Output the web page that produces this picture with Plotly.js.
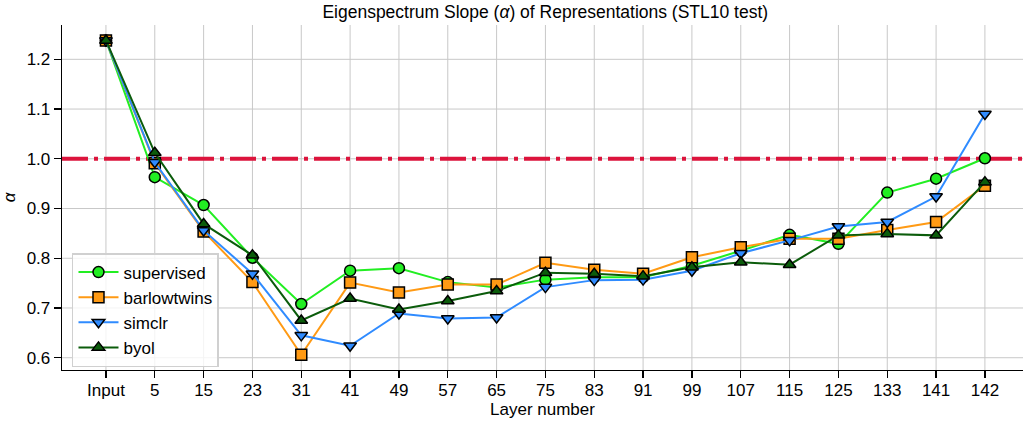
<!DOCTYPE html>
<html>
<head>
<meta charset="utf-8">
<script src="https://cdn.plot.ly/plotly-3.0.1.min.js"></script>
<style>html,body{margin:0;padding:0;background:#fff;}#chart{width:1023px;height:421px;}</style>
</head>
<body>
<div id="chart"></div>
<script>
const layers = ["Input","5","15","23","31","41","49","57","65","75","83","91","99","107","115","125","133","141","142"];
const supervised  = [1.238,0.963,0.907,0.801,0.708,0.775,0.780,0.752,0.741,0.757,0.762,0.762,0.785,0.815,0.847,0.829,0.932,0.960,1.001];
const barlowtwins = [1.238,0.991,0.854,0.752,0.606,0.751,0.731,0.747,0.747,0.791,0.777,0.769,0.802,0.822,0.839,0.839,0.857,0.873,0.946];
const simclr      = [1.238,0.993,0.856,0.769,0.645,0.624,0.689,0.679,0.681,0.742,0.756,0.757,0.775,0.810,0.836,0.864,0.873,0.924,1.090];
const byol        = [1.238,1.012,0.869,0.806,0.675,0.719,0.697,0.714,0.734,0.771,0.769,0.764,0.782,0.792,0.787,0.846,0.849,0.846,0.953];
const yTicks = [0.6, 0.7, 0.8, 0.9, 1.0, 1.1, 1.2];
const refLevel = 1.0;

const FONT = "Liberation Sans, Arial, Helvetica, sans-serif";
const GRID = "#c8c8c8";

function series(name, y, color, symbol) {
  return {
    x: layers, y: y, name: name, type: "scatter", mode: "lines+markers",
    line: {color: color, width: 2},
    marker: {symbol: symbol, size: 11, color: color, line: {color: "#000", width: 1.5}}
  };
}

const data = [
  series("supervised", supervised, "#22ee22", "circle"),
  series("barlowtwins", barlowtwins, "#ff9a14", "square"),
  series("simclr", simclr, "#2f8bff", "triangle-down"),
  series("byol", byol, "#0b5c0b", "triangle-up")
];

// grid lines drawn as shapes so the reference line can sit above them but below the data
const shapes = [];
layers.forEach((c, i) => shapes.push({type: "line", layer: "below", xref: "x", x0: i, x1: i, yref: "paper", y0: 0, y1: 1,
  line: {color: GRID, width: 1}}));
yTicks.forEach(t => shapes.push({type: "line", layer: "below", xref: "paper", x0: 0, x1: 1, yref: "y", y0: t, y1: t,
  line: {color: GRID, width: 1}}));
shapes.push({type: "line", layer: "below", xref: "paper", x0: 0, x1: 1, yref: "y", y0: refLevel, y1: refLevel,
  line: {color: "#DC143C", width: 4, dash: "26px,6px,4px,6px"}});

const layout = {
  width: 1023, height: 421,
  margin: {l: 62, r: 0, t: 25, b: 51},
  paper_bgcolor: "#fff", plot_bgcolor: "#fff",
  font: {family: FONT, size: 17, color: "#000"},
  title: {text: "Eigenspectrum Slope (<i>α</i>) of Representations (STL10 test)",
          font: {family: FONT, size: 17.5, color: "#000"},
          x: 0.533, xref: "container", xanchor: "center",
          y: 0.972, yref: "container", yanchor: "middle"},
  xaxis: {
    type: "category", range: [-0.9, 18.78],
    showline: true, linecolor: "#000", linewidth: 1.3,
    ticks: "outside", ticklen: 7, tickwidth: 1.3, tickcolor: "#000",
    ticklabelstandoff: -3,
    showgrid: false, zeroline: false,
    tickfont: {family: FONT, size: 17},
    title: {text: "Layer number", font: {family: FONT, size: 17}, standoff: 1}
  },
  yaxis: {
    range: [0.5753, 1.269], tickmode: "array", tickvals: yTicks, tickformat: ".1f",
    showline: true, linecolor: "#000", linewidth: 1.3,
    ticks: "outside", ticklen: 7, tickwidth: 1.3, tickcolor: "#000",
    showgrid: false, zeroline: false,
    tickfont: {family: FONT, size: 17},
    title: {text: "<i>α</i>", font: {family: FONT, size: 17}, standoff: 10}
  },
  shapes: shapes,
  legend: {
    x: 0.0104, xanchor: "left", y: 0.339, yanchor: "top",
    bgcolor: "rgba(255,255,255,0.8)", bordercolor: "#d0d0d0", borderwidth: 1.5,
    font: {family: FONT, size: 17},
    itemwidth: 40,
    tracegroupgap: 0
  },
  showlegend: true
};

Plotly.newPlot("chart", data, layout, {staticPlot: true, displayModeBar: false});
</script>
</body>
</html>
